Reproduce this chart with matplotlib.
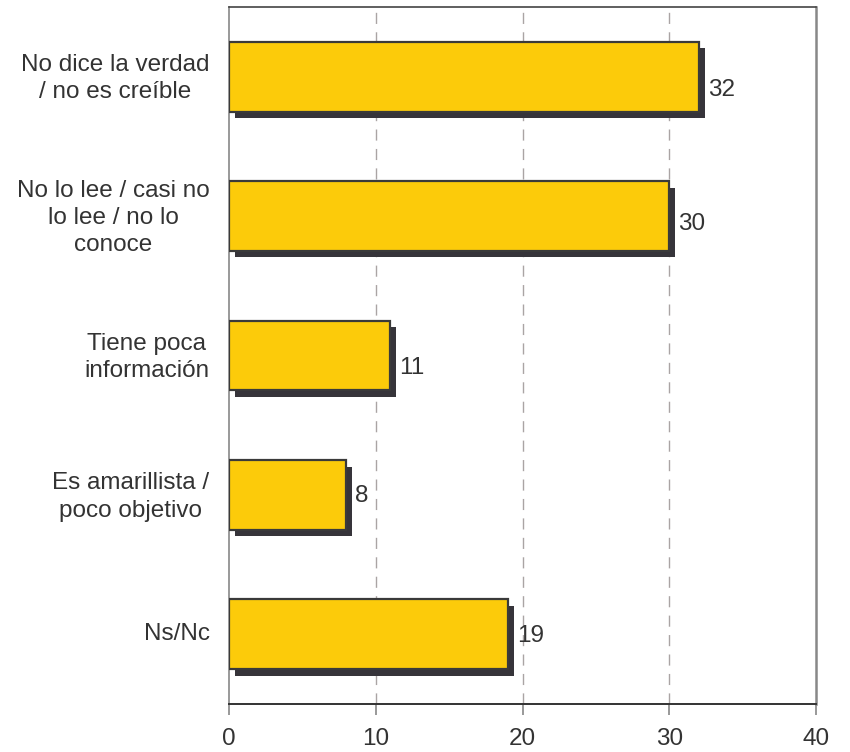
import matplotlib
matplotlib.use("Agg")
import matplotlib.pyplot as plt
import matplotlib.transforms as mtransforms

categories = [
    "No dice la verdad\n/ no es creíble",
    "No lo lee / casi no\nlo lee / no lo\nconoce",
    "Tiene poca\ninformación",
    "Es amarillista /\npoco objetivo",
    "Ns/Nc",
]
values = [32, 30, 11, 8, 19]
x_ticks = [0, 10, 20, 30, 40]

# small per-label vertical nudges (pixels) seen in the reference
label_dy_px = [-13, -8, -13, -1.5, -1.5]

plt.rcParams['font.family'] = ['Liberation Sans', 'DejaVu Sans']
TXT = '#333333'
YELLOW = '#FCCB0A'
SHADOW = '#36343A'

fig = plt.figure(figsize=(8.5, 7.52), dpi=100)
ax = fig.add_axes([229 / 850, 1 - 704 / 752, (816 - 229) / 850, (704 - 7) / 752])

y = list(range(len(categories)))
shadow_tr = ax.transData + mtransforms.ScaledTranslation(6 / 100, -6.5 / 100, fig.dpi_scale_trans)
ax.barh(y, values, height=0.5, color=SHADOW, edgecolor='none', transform=shadow_tr, zorder=2)
ax.barh(y, values, height=0.5, color=YELLOW, edgecolor='#3a3a3a', linewidth=1.6, zorder=3)

for i, v in enumerate(values):
    off = mtransforms.offset_copy(ax.transData, fig=fig, x=9, y=label_dy_px[i], units='dots')
    ax.text(v, i, str(v), transform=off, ha='left', va='center', fontsize=17.5, color=TXT, zorder=4)

ax.set_xlim(0, 40)
ax.set_ylim(len(categories) - 0.5, -0.5)
ax.set_xticks(x_ticks)
ax.set_xticklabels([str(t) for t in x_ticks], fontsize=17.5, color=TXT)
ax.set_yticks(y)
ax.set_yticklabels(categories, fontsize=17.5, color=TXT, multialignment='center', linespacing=1.3)
ax.tick_params(axis='y', length=0, pad=14)
ax.tick_params(axis='x', length=8, width=1.2, color='#888888', pad=9)

up = mtransforms.ScaledTranslation(0, 3 / 100, fig.dpi_scale_trans)
for lab in ax.get_yticklabels():
    lab.set_transform(lab.get_transform() + up)

for xv in x_ticks[1:-1]:
    ax.axvline(xv, color='#aaa4a4', linewidth=1.0, dashes=(8, 6), zorder=1)

ax.spines['left'].set_color('#888888')
ax.spines['left'].set_linewidth(1.2)
ax.spines['right'].set_color('#888888')
ax.spines['right'].set_linewidth(1.8)
ax.spines['top'].set_color('#444444')
ax.spines['top'].set_linewidth(1.2)
ax.spines['bottom'].set_color('#333333')
ax.spines['bottom'].set_linewidth(1.4)

fig.savefig('out.png', dpi=100)
